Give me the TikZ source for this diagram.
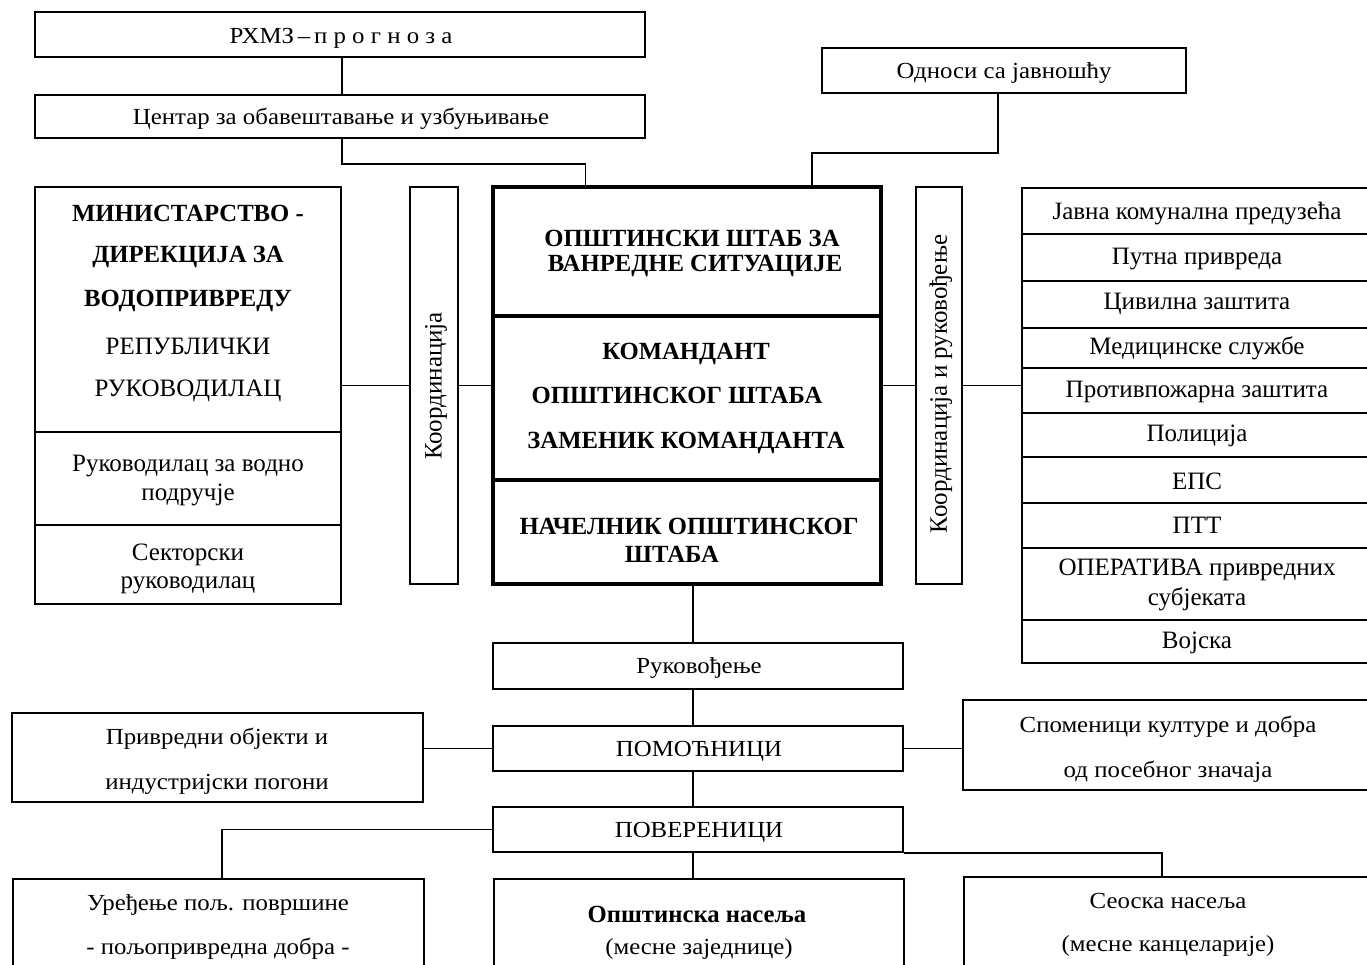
\documentclass[tikz,border=0pt]{standalone}
\usepackage{fontspec}
\setmainfont{Liberation Serif}
\newfontfamily\condf[FakeStretch=1.08]{Liberation Serif}
\begin{document}
\begin{tikzpicture}[x=1pt,y=-1pt,
  box/.style={draw, line width=1.5pt, inner sep=0pt},
  thick box/.style={draw, line width=3.5pt, inner sep=0pt},
  conn/.style={line width=1.5pt},
  txt/.style={font=\fontsize{25}{29}\selectfont, inner sep=0pt, align=center, yshift=-2pt},
  btxt/.style={font=\fontsize{24.7}{28}\selectfont\bfseries, inner sep=0pt, align=center, yshift=-1pt},
  ctxt/.style={font=\fontsize{23}{27}\selectfont\condf, inner sep=0pt, align=center, yshift=-2pt},
  rtxt/.style={font=\fontsize{25}{29}\selectfont, inner sep=0pt, rotate=90}]
\useasboundingbox (0,0) rectangle (1367,964);
\clip (0,0) rectangle (1367,964);
\fill[white] (0,0) rectangle (1367,964);

% top boxes
\node[box, minimum width=610pt, minimum height=45pt] (rhmz) at (340,34.5) {};
\node[ctxt] (rhmzt) at (341,36) {РХМЗ\,–\,п р о г н о з а};
\node[box, minimum width=610pt, minimum height=43pt] (centar) at (340,116.5) {};
\node[ctxt] (centart) at (341,117) {Центар за обавештавање и узбуњивање};
\node[box, minimum width=364pt, minimum height=45pt] (odnosi) at (1004,70.5) {};
\node[ctxt] (odnosit) at (1004,71) {Односи са јавношћу};

% ministry
\node[box, minimum width=306pt, minimum height=245pt] (min1) at (188,309.5) {};
\node[box, minimum width=306pt, minimum height=93pt] (min2) at (188,478.5) {};
\node[box, minimum width=306pt, minimum height=79pt] (min3) at (188,564.5) {};
\node[btxt] (mt1) at (188,212) {МИНИСТАРСТВО -};
\node[btxt] (mt2) at (188,256) {ДИРЕКЦИЈА ЗА};
\node[btxt] (mt3) at (188,300) {ВОДОПРИВРЕДУ};
\node[txt] (mt4) at (188,344) {РЕПУБЛИЧКИ};
\node[txt] (mt5) at (188,389) {РУКОВОДИЛАЦ};
\node[txt] (mt6) at (188,464) {Руководилац за водно};
\node[txt] (mt7) at (188,493) {подручје};
\node[txt] (mt8) at (188,553) {Секторски};
\node[txt] (mt9) at (188,583) {руководилац};

% coordination bars
\node[box, minimum width=48pt, minimum height=397pt] (koord) at (434,385.5) {};
\node[rtxt] (koordt) at (436,386) {Координација};
\node[box, minimum width=46pt, minimum height=397pt] (koord2) at (939,385.5) {};
\node[rtxt] (koord2t) at (941,384) {Координација и руковођење};

% main box
\node[thick box, minimum width=388pt, minimum height=129pt] (m1) at (687,251.5) {};
\node[thick box, minimum width=388pt, minimum height=164pt] (m2) at (687,398) {};
\node[thick box, minimum width=388pt, minimum height=104pt] (m3) at (687,532) {};
\node[btxt] (m1a) at (692,237) {ОПШТИНСКИ ШТАБ ЗА};
\node[btxt] (m1b) at (695,265) {ВАНРЕДНЕ СИТУАЦИЈЕ};
\node[btxt] (m2a) at (686,353) {КОМАНДАНТ};
\node[btxt] (m2b) at (677,394) {ОПШТИНСКОГ ШТАБА};
\node[btxt] (m2c) at (686,442) {ЗАМЕНИК КОМАНДАНТА};
\node[btxt] (m3a) at (689,525) {НАЧЕЛНИК ОПШТИНСКОГ};
\node[btxt] (m3b) at (672,553) {ШТАБА};

% right list
\foreach \n/\a/\b in {l1/187/233, l2/233/280, l3/280/327, l4/327/367, l5/367/412, l6/412/456, l7/456/502, l8/502/547, l9/547/619, l10/619/662}{
  \node[box, minimum width=352pt, minimum height={\b-\a}, anchor=north west] (\n) at (1021,\a) {};
}
\node[txt] (l1t) at (1197,212) {Јавна комунална предузећа};
\node[txt] (l2t) at (1197,257) {Путна привреда};
\node[txt] (l3t) at (1197,302) {Цивилна заштита};
\node[txt] (l4t) at (1197,346) {Медицинске службе};
\node[txt] (l5t) at (1197,390) {Противпожарна заштита};
\node[txt] (l6t) at (1197,434) {Полиција};
\node[txt] (l7t) at (1197,479) {ЕПС};
\node[txt] (l8t) at (1197,523) {ПТТ};
\node[txt] (l9t) at (1197,568) {ОПЕРАТИВА привредних};
\node[txt] (l9u) at (1197,597) {субјеката};
\node[txt] (l10t) at (1197,641) {Војска};

% lower chain
\node[box, minimum width=410pt, minimum height=46pt] (ruk) at (698,666) {};
\node[ctxt] (rukt) at (699,666) {Руковођење};
\node[box, minimum width=410pt, minimum height=45pt] (pom) at (698,748.5) {};
\node[ctxt] (pomt) at (699,749) {ПОМОЋНИЦИ};
\node[box, minimum width=410pt, minimum height=45pt] (pov) at (698,829.5) {};
\node[ctxt] (povt) at (699,830) {ПОВЕРЕНИЦИ};

\node[box, minimum width=411pt, minimum height=89pt] (priv) at (217.5,757.5) {};
\node[ctxt] (privt1) at (217,737) {Привредни објекти и};
\node[ctxt] (privt2) at (217,782) {индустријски погони};
\node[box, minimum width=412pt, minimum height=90pt] (spom) at (1169,745) {};
\node[ctxt] (spomt1) at (1168,725) {Споменици културе и добра};
\node[ctxt] (spomt2) at (1168,770) {од посебног значаја};

\node[box, minimum width=411pt, minimum height=120pt, anchor=north west] (ured) at (12,878) {};
\node[ctxt] (uredt1) at (218,903) {Уређење пољ. површине};
\node[ctxt] (uredt2) at (218,947) {- пољопривредна добра -};
\node[box, minimum width=410pt, minimum height=120pt, anchor=north west] (ops) at (493,878) {};
\node[btxt] (opst1) at (697,913) {Општинска насеља};
\node[ctxt] (opst2) at (699,947) {(месне заједнице)};
\node[box, minimum width=412pt, minimum height=120pt, anchor=north west] (seo) at (963,876) {};
\node[ctxt] (seot1) at (1168,899) {Сеоска насеља};
\node[ctxt] (seot2) at (1168,944) {(месне канцеларије)};

% connectors
\draw[conn] ([xshift=2pt]rhmz.south) -- ([xshift=2pt]centar.north);
\draw[conn] ([xshift=2pt]centar.south) -- ++(0,25) -| ([xshift=94pt]m1.north west);
\draw[conn] ([xshift=-6pt]odnosi.south) -- ++(0,59) -| ([xshift=-71pt]m1.north east);
\draw[conn] (koord.west) -- (koord.west -| min1.east);
\draw[conn] (koord.east) -- (koord.east -| m2.west);
\draw[conn] (koord2.west) -- (koord2.west -| m2.east);
\draw[conn] (koord2.east) -- (koord2.east -| l1.west);
\draw[conn] ([xshift=6pt]m3.south) -- ([xshift=-5pt]ruk.north);
\draw[conn] ([xshift=-5pt]ruk.south) -- ([xshift=-5pt]pom.north);
\draw[conn] (pom.west) -- (pom.west -| priv.east);
\draw[conn] (pom.east) -- (pom.east -| spom.west);
\draw[conn] ([xshift=-5pt]pom.south) -- ([xshift=-5pt]pov.north);
\draw[conn] (pov.west) -| ([xshift=210pt]ured.north west);
\draw[conn] ([xshift=-5pt]pov.south) -- ([xshift=200pt]ops.north west);
\draw[conn] (pov.south east) -| ([xshift=199pt]seo.north west);
\end{tikzpicture}
\end{document}
